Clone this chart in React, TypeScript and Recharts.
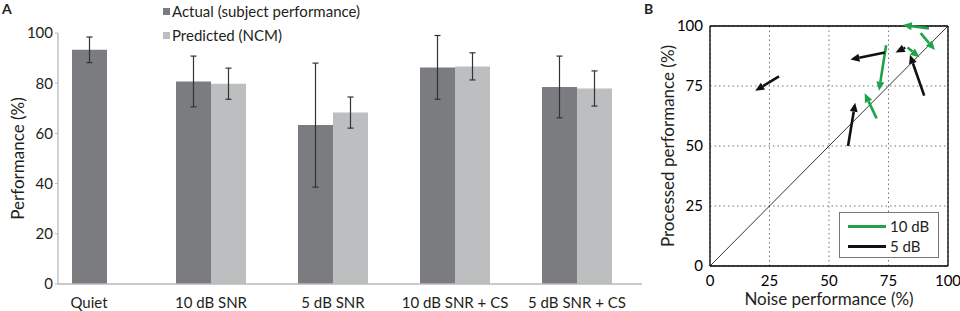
import React from 'react';
import {
  ComposedChart,
  Bar,
  Line,
  XAxis,
  YAxis,
  ErrorBar,
  Legend,
  CartesianGrid,
  ReferenceLine,
} from 'recharts';

// Panel A: actual vs predicted performance per listening condition
const categories = ['Quiet', '10 dB SNR', '5 dB SNR', '10 dB SNR + CS', '5 dB SNR + CS'];
const actualScores = [93.3, 80.7, 63.3, 86.3, 78.5];
const actualSd = [5.1, 10.1, 24.7, 12.7, 12.3];
const predictedScores: (number | null)[] = [null, 79.8, 68.3, 86.7, 77.9];
const predictedSd: (number | null)[] = [null, 6.2, 6.2, 5.4, 7.0];
const yTicksA = [0, 20, 40, 60, 80, 100];

// Panel B: arrows from noise (tail) to processed (head) performance
const tails10dB = [[92, 99], [88.5, 97], [74, 92], [83, 91], [70, 61.5]];
const heads10dB = [[81, 100.4], [94.5, 90], [71, 73], [88, 87], [65, 72]];
const tails5dB = [[29, 79], [73.5, 89], [82, 91], [90, 71], [58, 50]];
const heads5dB = [[19, 73], [59, 86], [78, 89], [84, 88], [61, 68]];
const ticksB = [0, 25, 50, 75, 100];
const diagonal = [{ x: 0, y: 0 }, { x: 100, y: 100 }];

const DARK = '#7b7c80';
const LIGHT = '#bcbec0';
const GREEN = '#1fa34a';
const TEXT = '#231f20';
const FONT = 'Lato, "Open Sans", sans-serif';

const legendA = [
  { label: 'Actual (subject performance)', color: DARK },
  { label: 'Predicted (NCM)', color: LIGHT },
];
const legendB = [
  { label: '10 dB', color: GREEN },
  { label: '5 dB', color: '#111' },
];

// quiet has no prediction, so it goes on its own axis and sits centred
const rowsA = categories.map((name, i) =>
  predictedScores[i] == null
    ? { name, single: actualScores[i], singleSd: actualSd[i] }
    : {
        name,
        actual: actualScores[i],
        actualSd: actualSd[i],
        predicted: predictedScores[i],
        predictedSd: predictedSd[i],
      }
);

const arrowShape = (color: string) => (p: any) => {
  const { x1, y1, x2, y2 } = p;
  const a = Math.atan2(y2 - y1, x2 - x1);
  const len = 9;
  const half = 4;
  const bx = x2 - len * Math.cos(a);
  const by = y2 - len * Math.sin(a);
  const pts = [
    [x2, y2],
    [bx - half * Math.sin(a), by + half * Math.cos(a)],
    [bx + half * Math.sin(a), by - half * Math.cos(a)],
  ]
    .map((q) => q.join(','))
    .join(' ');
  return (
    <g>
      <line x1={x1} y1={y1} x2={bx} y2={by} stroke={color} strokeWidth={2.6} />
      <polygon points={pts} fill={color} />
    </g>
  );
};

const LegendA = () => (
  <div style={{ fontFamily: FONT, fontSize: 15, color: TEXT, lineHeight: '24px' }}>
    {legendA.map((e) => (
      <div key={e.label} style={{ display: 'flex', alignItems: 'center' }}>
        <span style={{ width: 7, height: 7, background: e.color, marginRight: 2 }} />
        {e.label}
      </div>
    ))}
  </div>
);

const LegendB = () => (
  <div
    style={{
      fontFamily: FONT,
      fontSize: 15,
      color: TEXT,
      border: '1px solid #777',
      background: '#fff',
      width: 100,
      height: 46,
      boxSizing: 'border-box',
      padding: '3px 0 0 8px',
    }}
  >
    {legendB.map((e) => (
      <div key={e.label} style={{ display: 'flex', alignItems: 'center', height: 20 }}>
        <span style={{ width: 38, height: 3, background: e.color, marginRight: 4 }} />
        {e.label}
      </div>
    ))}
  </div>
);

const rotatedLabel = (text: string, dx: number, size: number) => (props: any) => {
  const vb = props.viewBox;
  const x = vb.x + dx;
  const y = vb.y + vb.height / 2;
  return (
    <text
      x={x}
      y={y}
      transform={`rotate(-90, ${x}, ${y})`}
      textAnchor="middle"
      dominantBaseline="central"
      fontSize={size}
      fontFamily={FONT}
      fill={TEXT}
    >
      {text}
    </text>
  );
};

const PanelA = () => (
  <ComposedChart
    width={650}
    height={311}
    data={rowsA}
    margin={{ top: 33, right: 8, bottom: 0, left: 0 }}
    barGap={0}
    barSize={35}
    style={{ fontFamily: FONT }}
  >
    <XAxis
      xAxisId="pair"
      dataKey="name"
      padding={{ left: -30, right: 4 }}
      height={27}
      interval={0}
      tickLine={false}
      axisLine={{ stroke: '#b8b8b8', strokeWidth: 1.3 }}
      tick={{ fill: TEXT, fontSize: 15 }}
      tickMargin={7}
    />
    <XAxis xAxisId="single" dataKey="name" padding={{ left: -30, right: 4 }} hide />
    <YAxis
      domain={[0, 100]}
      ticks={yTicksA}
      width={58}
      axisLine={{ stroke: '#b8b8b8', strokeWidth: 1.3 }}
      tickLine={{ stroke: '#b8b8b8' }}
      tickSize={3}
      tick={{ fill: TEXT, fontSize: 15 }}
      label={{ content: rotatedLabel('Performance (%)', 17, 17) }}
    />
    <Legend
      layout="horizontal"
      verticalAlign="middle"
      align="center"
      wrapperStyle={{ top: -1, left: 163, width: 'auto' }}
      content={() => <LegendA />}
    />
    <Bar xAxisId="pair" dataKey="actual" fill={DARK} isAnimationActive={false}>
      <ErrorBar dataKey="actualSd" width={3} stroke="#333" strokeWidth={1.2} />
    </Bar>
    <Bar xAxisId="pair" dataKey="predicted" fill={LIGHT} isAnimationActive={false}>
      <ErrorBar dataKey="predictedSd" width={3} stroke="#333" strokeWidth={1.2} />
    </Bar>
    <Bar xAxisId="single" dataKey="single" fill={DARK} isAnimationActive={false}>
      <ErrorBar dataKey="singleSd" width={3} stroke="#333" strokeWidth={1.2} />
    </Bar>
  </ComposedChart>
);

const PanelB = () => (
  <ComposedChart
    width={310}
    height={311}
    data={diagonal}
    margin={{ top: 26, right: 12, bottom: 0, left: 0 }}
    style={{ fontFamily: FONT }}
  >
    <CartesianGrid strokeDasharray="1.5 3" stroke="#777" />
    <XAxis
      type="number"
      dataKey="x"
      domain={[0, 100]}
      ticks={ticksB}
      height={45}
      tickLine={false}
      tickSize={4}
      tickMargin={5}
      axisLine={{ stroke: '#000', strokeWidth: 1.3 }}
      tick={{ fill: '#000', fontSize: 15 }}
      label={{ value: 'Noise performance (%)', position: 'insideBottom', offset: 6, fontSize: 17, fill: TEXT }}
    />
    <YAxis
      type="number"
      domain={[0, 100]}
      ticks={ticksB}
      width={60}
      tickLine={false}
      tickSize={5}
      tickMargin={2}
      axisLine={{ stroke: '#000', strokeWidth: 1.3 }}
      tick={{ fill: '#000', fontSize: 15 }}
      label={{ content: rotatedLabel('Processed performance (%)', 17, 17) }}
    />
    <ReferenceLine x={100} stroke="#000" strokeWidth={1.3} />
    <ReferenceLine y={100} stroke="#000" strokeWidth={1.3} />
    <Line
      dataKey="y"
      stroke="#000"
      strokeWidth={0.8}
      dot={false}
      isAnimationActive={false}
    />
    {tails10dB.map((t, i) => (
      <ReferenceLine
        key={`g${i}`}
        ifOverflow="visible"
        segment={[{ x: t[0], y: t[1] }, { x: heads10dB[i][0], y: heads10dB[i][1] }]}
        shape={arrowShape(GREEN)}
      />
    ))}
    {tails5dB.map((t, i) => (
      <ReferenceLine
        key={`k${i}`}
        ifOverflow="visible"
        segment={[{ x: t[0], y: t[1] }, { x: heads5dB[i][0], y: heads5dB[i][1] }]}
        shape={arrowShape('#111')}
      />
    ))}
    <Legend
      layout="horizontal"
      verticalAlign="middle"
      align="center"
      wrapperStyle={{ top: 212, left: 189, width: 'auto' }}
      content={() => <LegendB />}
    />
  </ComposedChart>
);

export default function App() {
  return (
    <div
      style={{
        position: 'absolute',
        left: 0,
        top: 0,
        width: 960,
        height: 311,
        background: '#fff',
        fontFamily: FONT,
      }}
    >
      <div style={{ position: 'absolute', left: 0, top: 0 }}>
        <PanelA />
      </div>
      <div style={{ position: 'absolute', left: 650, top: 0 }}>
        <PanelB />
      </div>
      <div style={{ position: 'absolute', left: 2, top: 0, fontWeight: 700, fontSize: 14, lineHeight: '17px', color: TEXT }}>A</div>
      <div style={{ position: 'absolute', left: 644, top: 0, fontWeight: 700, fontSize: 14, lineHeight: '17px', color: TEXT }}>B</div>
    </div>
  );
}
